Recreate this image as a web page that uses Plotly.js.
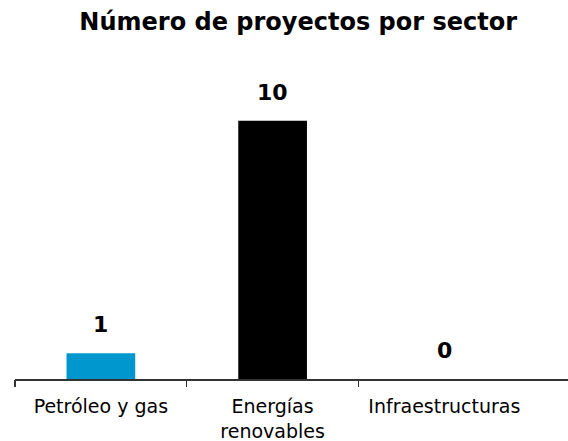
<!DOCTYPE html>
<html>
<head>
<meta charset="utf-8">
<script src="https://cdn.plot.ly/plotly-3.0.1.min.js"></script>
<style>html,body{margin:0;padding:0;background:#fff;}#chart{width:568px;height:441px;}</style>
</head>
<body>
<div id="chart"></div>
<script>
var categories = ["Petróleo y gas", "Energías<br>renovables", "Infraestructuras"];
var values = [1, 10, 0];
var barColors = ["#0097CE", "#000000", "#000000"];
var valueLabels = ["1", "10", "0"];
var chartTitle = "Número de proyectos por sector";

var FONT = "DejaVu Sans, Liberation Sans, Arial, sans-serif";

var trace = {
  type: "bar",
  x: categories,
  y: values,
  marker: {color: barColors, line: {width: 0}},
  width: 0.4,
  hoverinfo: "skip"
};

var annotations = categories.map(function (c, i) {
  return {
    x: c, y: values[i], xref: "x", yref: "y",
    text: "<b>" + valueLabels[i] + "</b>",
    showarrow: false, yanchor: "bottom", yshift: 14,
    font: {family: FONT, size: 22, color: "#000"}
  };
});

var layout = {
  width: 568, height: 441,
  margin: {l: 15, r: 0, t: 95, b: 62, pad: 0},
  paper_bgcolor: "#fff", plot_bgcolor: "#fff",
  showlegend: false,
  title: {
    text: "<b>" + chartTitle + "</b>",
    font: {family: FONT, size: 24, color: "#000"},
    xref: "container", yref: "container",
    x: 0.525, y: 0.95, xanchor: "center", yanchor: "middle"
  },
  xaxis: {
    type: "category",
    range: [-0.5, 2.72],
    showline: true, linecolor: "#333", linewidth: 1.5,
    ticks: "", showgrid: false, zeroline: false,
    tickfont: {family: FONT, size: 19, color: "#000"},
    ticklabelstandoff: 10
  },
  xaxis2: {
    overlaying: "x", anchor: "y",
    range: [-0.5, 2.72],
    tickvals: [-0.5, 0.5, 1.5],
    ticks: "outside", ticklen: 7, tickwidth: 1.5, tickcolor: "#333",
    showticklabels: false, showline: false, showgrid: false, zeroline: false,
    side: "bottom"
  },
  yaxis: {
    range: [0, 11],
    visible: false, showgrid: false, zeroline: false
  },
  annotations: annotations
};

var tickTrace = {type: "scatter", x: [], y: [], xaxis: "x2", yaxis: "y", hoverinfo: "skip"};

Plotly.newPlot("chart", [trace, tickTrace], layout, {staticPlot: true});
</script>
</body>
</html>
